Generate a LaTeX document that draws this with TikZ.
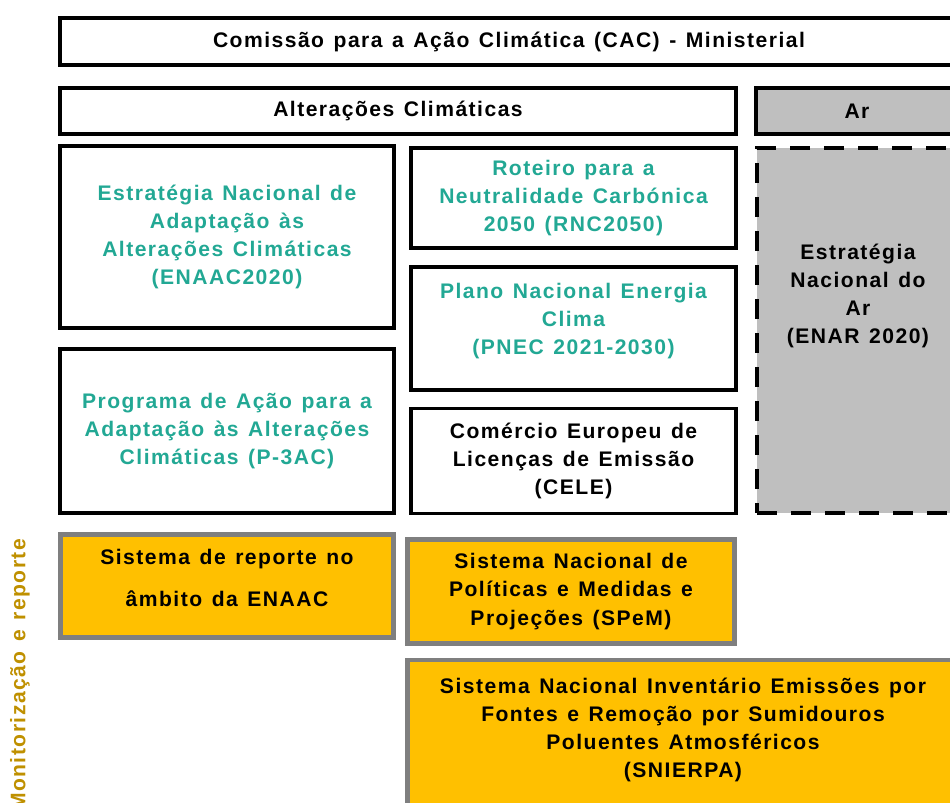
\documentclass[tikz,border=0pt]{standalone}
\usepackage{fontspec}
\setmainfont{Liberation Sans}[LetterSpace=7, WordSpace=1.3]
\definecolor{teal}{RGB}{34,168,148}
\definecolor{gold}{RGB}{191,144,0}
\definecolor{ambar}{RGB}{255,192,0}
\definecolor{cinza}{RGB}{191,191,191}
\definecolor{cinzaesc}{RGB}{127,127,127}
\newcommand{\pu}{0.025cm}
\tikzset{
  caixa/.style={draw=black, line width=2.8pt, align=center, inner sep=0pt,
    font=\bfseries\fontsize{15}{20}\selectfont},
  caixaar/.style={caixa, fill=cinza},
  caixarep/.style={caixa, draw=cinzaesc, line width=3.4pt, fill=ambar},
  tverde/.style={text=teal}
}
\begin{document}
\begin{tikzpicture}[x=0.025cm, y=-0.025cm]
  \useasboundingbox (0,0) rectangle (950,803);
  \clip (0,0) rectangle (950,803);

  \node[caixa, minimum width=898*\pu, minimum height=47*\pu] (cac) at (509,41.5)
    {Comissão para a Ação Climática (CAC) - Ministerial};
  \node[caixa, minimum width=676*\pu, minimum height=46*\pu] (alt) at (398,111)
    {Alterações Climáticas};
  \node[caixaar, minimum width=202*\pu, minimum height=46*\pu] (ar) at (857,111)
    {Ar};

  \node[caixa, tverde, minimum width=334*\pu, minimum height=182*\pu] (enaac) at (227,237)
    {Estratégia Nacional de\\Adaptação às\\Alterações Climáticas\\(ENAAC2020)};
  \node[caixa, tverde, minimum width=334*\pu, minimum height=164*\pu] (p3ac) at (227,431)
    {Programa de Ação para a\\Adaptação às Alterações\\Climáticas (P-3AC)};

  \node[caixa, tverde, minimum width=325*\pu, minimum height=100*\pu] (rnc) at (573.5,198)
    {Roteiro para a\\Neutralidade Carbónica\\2050 (RNC2050)};
  \node[caixa, tverde, minimum width=325*\pu, minimum height=123*\pu] (pnec) at (573.5,328.5)
    {};
  \node[tverde, align=center, font=\bfseries\fontsize{15}{20}\selectfont] (pnectxt) at (573.5,321)
    {Plano Nacional Energia\\Clima\\(PNEC 2021-2030)};
  \node[caixa, minimum width=325*\pu, minimum height=105*\pu] (cele) at (573.5,461)
    {Comércio Europeu de\\Licenças de Emissão\\(CELE)};

  \node[caixaar, dash pattern=on 20*\pu off 14*\pu, line width=3.4pt,
    minimum width=201*\pu, minimum height=365*\pu] (enar) at (857.5,330.5) {};
  \node[align=center, font=\bfseries\fontsize{15}{20}\selectfont] (enartxt) at (858,296)
    {Estratégia\\Nacional do\\Ar\\(ENAR 2020)};

  \node[caixarep, minimum width=333*\pu, minimum height=103*\pu] (rep) at (227,586)
    {};
  \node[align=center, font=\bfseries\fontsize{15}{20}\selectfont] (reptxt) at (227,578)
    {Sistema de reporte no\\[10pt]âmbito da ENAAC};
  \node[caixarep, minimum width=327*\pu, minimum height=104*\pu] (spem) at (571,591.5)
    {Sistema Nacional de\\Políticas e Medidas e\\Projeções (SPeM)};
  \node[caixarep, minimum width=550*\pu, minimum height=150*\pu] (snierpa) at (682.5,735)
    {};
  \node[align=center, font=\bfseries\fontsize{15}{20}\selectfont] (sniertxt) at (683,730)
    {Sistema Nacional Inventário Emissões por\\Fontes e Remoção por Sumidouros\\Poluentes Atmosféricos\\(SNIERPA)};

  \node[rotate=90, text=gold, font=\bfseries\fontsize{15}{20}\selectfont] (monit) at (20,675)
    {Monitorização e reporte};
\end{tikzpicture}
\end{document}
